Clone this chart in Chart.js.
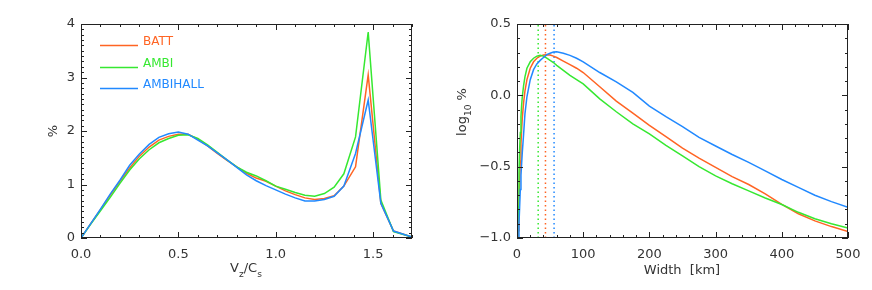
<!DOCTYPE html>
<html>
<head>
<meta charset="utf-8">
<script src="https://cdn.jsdelivr.net/npm/chart.js@4.4.1/dist/chart.umd.min.js"></script>
<style>
html, body { margin: 0; padding: 0; background: #fff; }
#wrap { position: relative; width: 872px; height: 290px; }
canvas { position: absolute; top: 0; }
</style>
</head>
<body>
<div id="wrap">
  <canvas id="left" width="436" height="290" style="left:0"></canvas>
  <canvas id="right" width="436" height="290" style="left:436px"></canvas>
</div>
<script>
// left panel: distribution of Vz/Cs
const velX = [0, 0.05, 0.1, 0.15, 0.2, 0.25, 0.3, 0.35, 0.4, 0.45, 0.5, 0.55, 0.6, 0.65, 0.7, 0.75,
  0.8, 0.85, 0.9, 0.95, 1.0, 1.05, 1.1, 1.15, 1.2, 1.25, 1.3, 1.35, 1.41, 1.475, 1.54, 1.605, 1.7];
const velBatt = [0, 0.27, 0.53, 0.8, 1.06, 1.31, 1.53, 1.7, 1.83, 1.9, 1.94, 1.94, 1.85, 1.72, 1.58, 1.45,
  1.33, 1.21, 1.12, 1.06, 0.97, 0.88, 0.81, 0.75, 0.72, 0.74, 0.79, 0.97, 1.33, 3.05, 0.65, 0.13, 0.02];
const velAmbi = [0, 0.26, 0.51, 0.76, 1.02, 1.27, 1.48, 1.65, 1.78, 1.86, 1.92, 1.93, 1.86, 1.74, 1.6, 1.46,
  1.33, 1.23, 1.16, 1.07, 0.97, 0.91, 0.85, 0.8, 0.78, 0.83, 0.95, 1.2, 1.89, 3.85, 0.71, 0.12, 0.02];
const velAmbiHall = [0, 0.27, 0.54, 0.82, 1.08, 1.36, 1.57, 1.75, 1.88, 1.95, 1.98, 1.94, 1.83, 1.72, 1.59, 1.46,
  1.32, 1.18, 1.07, 0.98, 0.9, 0.82, 0.75, 0.69, 0.69, 0.72, 0.78, 0.97, 1.58, 2.58, 0.65, 0.13, 0.02];

// right panel: log10 % against width
const widthX = [1, 2, 3, 4, 5, 6, 7, 8, 10, 12, 15, 20, 25, 30, 35, 40, 45, 50, 55, 60, 70, 80, 90, 100,
  125, 150, 175, 200, 225, 250, 275, 300, 325, 350, 375, 400, 425, 450, 475, 500];
const widthBatt = [-1.1, -0.95, -0.78, -0.6, -0.46, -0.34, -0.24, -0.16, -0.05, 0.03, 0.11, 0.19, 0.235, 0.26,
  0.275, 0.283, 0.285, 0.282, 0.275, 0.265, 0.24, 0.215, 0.19, 0.16, 0.06, -0.04, -0.125, -0.21, -0.29, -0.37,
  -0.44, -0.505, -0.57, -0.625, -0.69, -0.765, -0.83, -0.88, -0.92, -0.955];
const widthAmbi = [-1.0, -0.78, -0.55, -0.38, -0.26, -0.15, -0.07, -0.01, 0.07, 0.13, 0.19, 0.235, 0.26, 0.275,
  0.28, 0.275, 0.26, 0.245, 0.23, 0.21, 0.175, 0.14, 0.11, 0.08, -0.025, -0.115, -0.2, -0.27, -0.35, -0.425,
  -0.5, -0.565, -0.62, -0.67, -0.72, -0.765, -0.82, -0.865, -0.9, -0.93];
const widthAmbiHall = [-1.2, -1.02, -0.9, -0.78, -0.66, -0.56, -0.48, -0.4, -0.27, -0.13, -0.01, 0.11, 0.18, 0.22,
  0.245, 0.265, 0.285, 0.295, 0.303, 0.305, 0.295, 0.28, 0.26, 0.235, 0.16, 0.095, 0.02, -0.075, -0.15, -0.22,
  -0.295, -0.355, -0.415, -0.47, -0.53, -0.59, -0.645, -0.7, -0.745, -0.785];
// widths of the peaks (dotted lines): BATT, AMBI, AMBIHALL
const peakWidths = [43, 32, 56];

const seriesNames = ['BATT', 'AMBI', 'AMBIHALL'];
const seriesColors = ['#ff6423', '#36e831', '#2189ff'];

const velTicks = [0, 0.5, 1.0, 1.5];
const pctTicks = [0, 1, 2, 3, 4];
const widthTicks = [0, 100, 200, 300, 400, 500];
const logTicks = [-1.0, -0.5, 0.0, 0.5];

const FONT = '"DejaVu Sans", sans-serif';
const TEXT = '#333';

function zip(xs, ys) {
  return xs.map((x, i) => ({ x: x, y: ys[i] }));
}

// text with subscripts, centred on (x, y) baseline, optionally rotated
function drawRich(ctx, parts, x, y, angle, size) {
  ctx.save();
  ctx.translate(x, y);
  ctx.rotate(angle);
  ctx.fillStyle = TEXT;
  ctx.textBaseline = 'alphabetic';
  ctx.textAlign = 'left';
  let w = 0;
  parts.forEach(p => {
    ctx.font = (p.sub ? size * 0.7 : size) + 'px ' + FONT;
    p.w = ctx.measureText(p.t).width;
    w += p.w;
  });
  let cx = -w / 2;
  parts.forEach(p => {
    ctx.font = (p.sub ? size * 0.7 : size) + 'px ' + FONT;
    ctx.fillText(p.t, cx, p.sub ? size * 0.35 : 0);
    cx += p.w;
  });
  ctx.restore();
}

// IDL style frame with inward ticks on all four sides
const frameTicks = {
  id: 'frameTicks',
  afterDatasetsDraw(chart, args, opts) {
    const { ctx, chartArea: a } = chart;
    const sx = chart.scales.x, sy = chart.scales.y;
    ctx.save();
    ctx.strokeStyle = '#222';
    ctx.lineWidth = 1;
    ctx.strokeRect(a.left + 0.5, a.top + 0.5, a.right - a.left - 1, a.bottom - a.top - 1);
    ctx.beginPath();
    const tickX = (v, len) => {
      const px = Math.round(sx.getPixelForValue(v)) + 0.5;
      ctx.moveTo(px, a.bottom); ctx.lineTo(px, a.bottom - len);
      ctx.moveTo(px, a.top); ctx.lineTo(px, a.top + len);
    };
    const tickY = (v, len) => {
      const py = Math.round(sy.getPixelForValue(v)) + 0.5;
      ctx.moveTo(a.left, py); ctx.lineTo(a.left + len, py);
      ctx.moveTo(a.right, py); ctx.lineTo(a.right - len, py);
    };
    let n = Math.round((sx.max - sx.min) / opts.xMinor);
    for (let i = 0; i <= n; i++) tickX(sx.min + i * opts.xMinor, 3);
    n = Math.round((sy.max - sy.min) / opts.yMinor);
    for (let i = 0; i <= n; i++) tickY(sy.min + i * opts.yMinor, 3);
    sx.ticks.forEach(t => tickX(t.value, 6));
    sy.ticks.forEach(t => tickY(t.value, 6));
    ctx.stroke();
    ctx.restore();
  }
};

// legend inside the left panel
const innerLegend = {
  id: 'innerLegend',
  afterDraw(chart) {
    const ctx = chart.ctx;
    ctx.save();
    ctx.font = '12px ' + FONT;
    ctx.textBaseline = 'middle';
    const rows = [45, 67, 88];
    chart.data.datasets.forEach((ds, i) => {
      const ly = rows[i] + 0.5;
      ctx.strokeStyle = ds.borderColor;
      ctx.lineWidth = 1.5;
      ctx.beginPath();
      ctx.moveTo(100, ly); ctx.lineTo(138, ly);
      ctx.stroke();
      ctx.fillStyle = ds.borderColor;
      ctx.fillText(ds.label, 143, rows[i] - 3);
    });
    ctx.restore();
  }
};

const leftTitles = {
  id: 'leftTitles',
  afterDraw(chart) {
    const ctx = chart.ctx;
    drawRich(ctx, [{ t: 'V' }, { t: 'z', sub: true }, { t: '/C' }, { t: 's', sub: true }], 246, 272, 0, 13);
    drawRich(ctx, [{ t: '%' }], 57, 131, -Math.PI / 2, 13);
  }
};

const rightTitles = {
  id: 'rightTitles',
  afterDraw(chart) {
    const ctx = chart.ctx;
    drawRich(ctx, [{ t: 'Width  [km]' }], 246, 274, 0, 13);
    drawRich(ctx, [{ t: 'log' }, { t: '10', sub: true }, { t: ' %' }], 30, 112, -Math.PI / 2, 13);
  }
};

function axes(xMin, xMax, xTicks, xFmt, yMin, yMax, yTicks, yFmt) {
  return {
    x: {
      type: 'linear', min: xMin, max: xMax,
      afterBuildTicks: s => { s.ticks = xTicks.map(v => ({ value: v })); },
      afterFit: s => { s.height = 52; },
      grid: { display: false, drawTicks: false },
      border: { display: false },
      ticks: { padding: 9, color: TEXT, font: { family: FONT, size: 13 }, maxRotation: 0, callback: xFmt }
    },
    y: {
      type: 'linear', min: yMin, max: yMax,
      afterBuildTicks: s => { s.ticks = yTicks.map(v => ({ value: v })); },
      afterFit: s => { s.width = 81; },
      grid: { display: false, drawTicks: false },
      border: { display: false },
      ticks: { padding: 6, color: TEXT, font: { family: FONT, size: 13 }, callback: yFmt }
    }
  };
}

function lineSet(label, data, color, order) {
  return {
    label: label, data: data, borderColor: color, backgroundColor: color,
    borderWidth: 1.5, pointRadius: 0, tension: 0, order: order
  };
}

const baseOptions = {
  responsive: false,
  animation: false,
  layout: { padding: { left: 0, right: 24, top: 24, bottom: 0 } },
  plugins: { legend: { display: false }, tooltip: { enabled: false } }
};

new Chart(document.getElementById('left'), {
  type: 'line',
  data: {
    datasets: [
      lineSet(seriesNames[0], zip(velX, velBatt), seriesColors[0], 2),
      lineSet(seriesNames[1], zip(velX, velAmbi), seriesColors[1], 1),
      lineSet(seriesNames[2], zip(velX, velAmbiHall), seriesColors[2], 0)
    ]
  },
  options: Object.assign({}, baseOptions, {
    scales: axes(0, 1.7, velTicks, v => v.toFixed(1), 0, 4, pctTicks, v => String(v)),
    plugins: Object.assign({}, baseOptions.plugins, { frameTicks: { xMinor: 0.1, yMinor: 0.1 } })
  }),
  plugins: [frameTicks, innerLegend, leftTitles]
});

const rightSets = [
  lineSet(seriesNames[0], zip(widthX, widthBatt), seriesColors[0], 2),
  lineSet(seriesNames[1], zip(widthX, widthAmbi), seriesColors[1], 1),
  lineSet(seriesNames[2], zip(widthX, widthAmbiHall), seriesColors[2], 0)
];
peakWidths.forEach((w, i) => {
  rightSets.push({
    label: seriesNames[i] + ' peak',
    data: [{ x: w, y: logTicks[0] }, { x: w, y: logTicks[logTicks.length - 1] }],
    borderColor: seriesColors[i], borderWidth: 1.5, borderDash: [1.5, 3],
    pointRadius: 0, order: 3
  });
});

new Chart(document.getElementById('right'), {
  type: 'line',
  data: { datasets: rightSets },
  options: Object.assign({}, baseOptions, {
    scales: axes(0, 500, widthTicks, v => String(v), -1, 0.5, logTicks,
      v => v.toFixed(1).replace('-', '\u2212')),
    plugins: Object.assign({}, baseOptions.plugins, { frameTicks: { xMinor: 20, yMinor: 0.1 } })
  }),
  plugins: [frameTicks, rightTitles]
});
</script>
</body>
</html>
